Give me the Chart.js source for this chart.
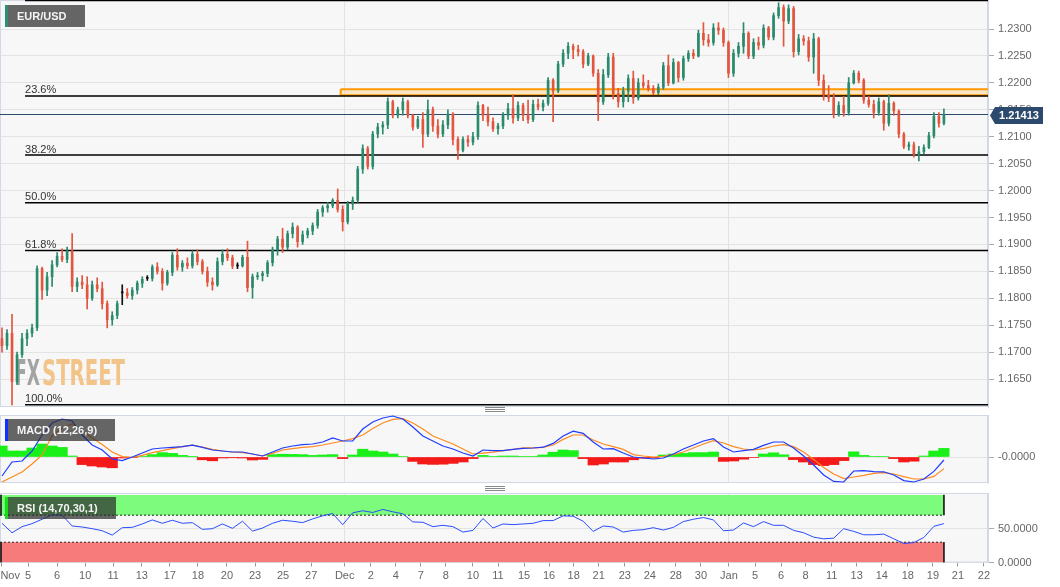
<!DOCTYPE html>
<html>
<head>
<meta charset="utf-8">
<script src="https://cdn.jsdelivr.net/npm/chart.js@4.4.0/dist/chart.umd.min.js"></script>
<style>
  body { margin: 0; background: #fff; }
  #wrap { position: relative; width: 1060px; height: 587px; overflow: hidden; }
  canvas { position: absolute; left: 0; }
  .grip { position: absolute; left: 485px; width: 20px; height: 5px;
          background: repeating-linear-gradient(#8a8a8a 0 1px, transparent 1px 2px); }
</style>
</head>
<body>
<div id="wrap">
  <canvas id="price" width="1060" height="410" style="top:0"></canvas>
  <canvas id="macd" width="1060" height="72" style="top:413px"></canvas>
  <canvas id="rsi" width="1060" height="99" style="top:488px"></canvas>
  <div class="grip" style="top:407px"></div>
  <div class="grip" style="top:486px"></div>
</div>
<script>
// EUR/USD 4h-ish bars
const opens = [
  1.1725,1.1712,1.1735,1.1645,1.1695,1.1725,1.1735,1.1745,1.1855,1.1815,
  1.1840,1.1862,1.1878,1.1872,1.1888,1.1822,1.1830,1.1825,1.1800,1.1825,
  1.1818,1.1790,1.1760,1.1768,1.1810,1.1810,1.1805,1.1815,1.1828,1.1837,
  1.1837,1.1858,1.1850,1.1828,1.1848,1.1880,1.1858,1.1865,1.1860,1.1882,
  1.1868,1.1850,1.1830,1.1825,1.1868,1.1882,1.1875,1.1860,1.1860,1.1876,
  1.1820,1.1840,1.1842,1.1846,1.1866,1.1890,1.1910,1.1895,1.1920,1.1932,
  1.1905,1.1918,1.1925,1.1935,1.1960,1.1968,1.1972,1.1982,1.1965,1.1942,
  1.1975,1.1982,1.2040,1.2078,1.2045,1.2105,1.2118,1.2122,1.2165,1.2140,
  1.2150,1.2165,1.2140,1.2118,1.2132,1.2105,1.2150,1.2120,1.2105,1.2122,
  1.2142,1.2095,1.2075,1.2095,1.2090,1.2100,1.2158,1.2140,1.2128,1.2115,
  1.2120,1.2140,1.2152,1.2135,1.2158,1.2140,1.2132,1.2160,1.2155,1.2162,
  1.2205,1.2185,1.2235,1.2255,1.2268,1.2262,1.2258,1.2235,1.2250,1.2218,
  1.2165,1.2215,1.2248,1.2180,1.2165,1.2185,1.2208,1.2172,1.2200,1.2195,
  1.2190,1.2182,1.2192,1.2232,1.2200,1.2238,1.2210,1.2245,1.2255,1.2250,
  1.2292,1.2280,1.2275,1.2302,1.2298,1.2275,1.2218,1.2255,1.2268,1.2292,
  1.2250,1.2275,1.2270,1.2302,1.2285,1.2325,1.2340,1.2315,1.2338,1.2258,
  1.2282,1.2278,1.2248,1.2282,1.2205,1.2178,1.2172,1.2142,1.2158,1.2145,
  1.2200,1.2218,1.2205,1.2168,1.2160,1.2145,1.2165,1.2125,1.2162,1.2148,
  1.2105,1.2082,1.2085,1.2068,1.2072,1.2080,1.2102,1.2138,1.2125
]
const highs = [
  1.1745,1.1742,1.1770,1.1700,1.1735,1.1742,1.1752,1.1860,1.1858,1.1848,
  1.1870,1.1885,1.1892,1.1895,1.1920,1.1838,1.1842,1.1840,1.1832,1.1838,
  1.1830,1.1795,1.1775,1.1795,1.1825,1.1818,1.1820,1.1832,1.1840,1.1842,
  1.1862,1.1866,1.1855,1.1852,1.1885,1.1892,1.1870,1.1875,1.1888,1.1890,
  1.1872,1.1858,1.1838,1.1875,1.1890,1.1892,1.1880,1.1866,1.1880,1.1906,
  1.1845,1.1848,1.1850,1.1870,1.1895,1.1915,1.1930,1.1925,1.1940,1.1935,
  1.1925,1.1930,1.1940,1.1965,1.1972,1.1978,1.1985,1.2003,1.1972,1.1980,
  1.1988,1.2045,1.2085,1.2082,1.2110,1.2125,1.2128,1.2172,1.2168,1.2155,
  1.2172,1.2168,1.2142,1.2138,1.2145,1.2168,1.2155,1.2132,1.2130,1.2150,
  1.2145,1.2100,1.2100,1.2102,1.2108,1.2165,1.2160,1.2155,1.2135,1.2125,
  1.2145,1.2162,1.2178,1.2165,1.2162,1.2168,1.2168,1.2170,1.2168,1.2210,
  1.2208,1.2240,1.2262,1.2275,1.2272,1.2270,1.2262,1.2255,1.2252,1.2225,
  1.2225,1.2255,1.2255,1.2190,1.2192,1.2215,1.2222,1.2208,1.2215,1.2205,
  1.2195,1.2198,1.2238,1.2252,1.2245,1.2240,1.2250,1.2260,1.2262,1.2298,
  1.2312,1.2290,1.2310,1.2312,1.2302,1.2278,1.2262,1.2275,1.2312,1.2295,
  1.2282,1.2285,1.2308,1.2305,1.2330,1.2349,1.2345,1.2345,1.2342,1.2290,
  1.2288,1.2285,1.2292,1.2285,1.2215,1.2195,1.2180,1.2165,1.2175,1.2210,
  1.2223,1.2222,1.2208,1.2175,1.2168,1.2172,1.2168,1.2178,1.2165,1.2150,
  1.2108,1.2090,1.2090,1.2082,1.2085,1.2108,1.2145,1.2145,1.2152
]
const lows = [
  1.1700,1.1705,1.1602,1.1640,1.1690,1.1712,1.1728,1.1740,1.1798,1.1805,
  1.1822,1.1858,1.1868,1.1866,1.1812,1.1812,1.1818,1.1780,1.1796,1.1812,
  1.1780,1.1745,1.1750,1.1762,1.1788,1.1800,1.1798,1.1808,1.1820,1.1833,
  1.1832,1.1845,1.1815,1.1824,1.1842,1.1852,1.1850,1.1855,1.1856,1.1862,
  1.1845,1.1822,1.1815,1.1822,1.1862,1.1870,1.1855,1.1855,1.1858,1.1812,
  1.1800,1.1835,1.1832,1.1840,1.1860,1.1880,1.1885,1.1890,1.1912,1.1895,
  1.1900,1.1912,1.1918,1.1930,1.1952,1.1960,1.1968,1.1960,1.1925,1.1938,
  1.1965,1.1978,1.2032,1.2040,1.2040,1.2098,1.2105,1.2115,1.2135,1.2135,
  1.2140,1.2135,1.2112,1.2115,1.2080,1.2100,1.2110,1.2098,1.2100,1.2115,
  1.2085,1.2058,1.2072,1.2082,1.2085,1.2095,1.2130,1.2120,1.2110,1.2105,
  1.2115,1.2132,1.2125,1.2130,1.2130,1.2125,1.2128,1.2150,1.2148,1.2158,
  1.2128,1.2182,1.2230,1.2245,1.2245,1.2250,1.2228,1.2232,1.2212,1.2130,
  1.2160,1.2210,1.2170,1.2155,1.2155,1.2165,1.2162,1.2168,1.2190,1.2185,
  1.2178,1.2178,1.2188,1.2195,1.2198,1.2202,1.2205,1.2240,1.2245,1.2248,
  1.2270,1.2268,1.2270,1.2290,1.2268,1.2210,1.2212,1.2248,1.2255,1.2245,
  1.2245,1.2262,1.2265,1.2280,1.2280,1.2320,1.2268,1.2310,1.2248,1.2252,
  1.2270,1.2240,1.2218,1.2195,1.2168,1.2165,1.2135,1.2138,1.2138,1.2140,
  1.2198,1.2200,1.2162,1.2155,1.2135,1.2140,1.2112,1.2120,1.2140,1.2098,
  1.2078,1.2075,1.2062,1.2055,1.2068,1.2078,1.2098,1.2118,1.2122
]
const closes = [
  1.1712,1.1735,1.1645,1.1695,1.1725,1.1735,1.1745,1.1855,1.1815,1.1840,
  1.1862,1.1878,1.1872,1.1888,1.1822,1.1830,1.1825,1.1800,1.1825,1.1818,
  1.1790,1.1760,1.1768,1.1790,1.1810,1.1805,1.1815,1.1828,1.1835,1.1837,
  1.1858,1.1850,1.1828,1.1848,1.1880,1.1858,1.1865,1.1860,1.1882,1.1868,
  1.1850,1.1830,1.1825,1.1868,1.1882,1.1875,1.1860,1.1860,1.1876,1.1820,
  1.1840,1.1842,1.1846,1.1866,1.1890,1.1910,1.1895,1.1920,1.1932,1.1905,
  1.1918,1.1925,1.1935,1.1960,1.1968,1.1972,1.1982,1.1965,1.1942,1.1975,
  1.1982,1.2040,1.2078,1.2045,1.2105,1.2118,1.2122,1.2165,1.2140,1.2150,
  1.2165,1.2140,1.2118,1.2132,1.2105,1.2150,1.2120,1.2105,1.2122,1.2142,
  1.2095,1.2075,1.2095,1.2090,1.2100,1.2158,1.2140,1.2128,1.2115,1.2120,
  1.2140,1.2152,1.2135,1.2158,1.2140,1.2132,1.2160,1.2155,1.2162,1.2205,
  1.2185,1.2235,1.2255,1.2268,1.2262,1.2258,1.2235,1.2250,1.2218,1.2165,
  1.2215,1.2248,1.2180,1.2165,1.2185,1.2208,1.2172,1.2200,1.2195,1.2190,
  1.2182,1.2192,1.2232,1.2200,1.2238,1.2210,1.2245,1.2255,1.2250,1.2292,
  1.2280,1.2275,1.2302,1.2298,1.2275,1.2218,1.2255,1.2268,1.2292,1.2250,
  1.2275,1.2270,1.2302,1.2285,1.2325,1.2340,1.2315,1.2338,1.2258,1.2282,
  1.2278,1.2248,1.2282,1.2205,1.2178,1.2172,1.2142,1.2158,1.2145,1.2200,
  1.2218,1.2205,1.2168,1.2160,1.2145,1.2165,1.2125,1.2162,1.2148,1.2105,
  1.2082,1.2085,1.2068,1.2072,1.2080,1.2102,1.2138,1.2125,1.21413
]

// indicators, one reading every second bar
const macdLine = [
  -0.00095,-0.00025,-0.0002,0.0003,0.0011,0.0017,0.0019,0.0018,0.0011,0.0006,
  0.00035,-0.0001,-0.00018,0,0.0002,0.0004,0.00045,0.00048,0.00052,0.00059,
  0.00048,0.00035,0.0003,0.00025,0.00025,0.00015,0.00005,0.00025,0.00045,0.00055,
  0.00062,0.00065,0.00075,0.00095,0.0008,0.0008,0.0014,0.00175,0.00195,0.00205,
  0.0019,0.0015,0.00105,0.0008,0.00055,0.0004,0.0002,0.00005,0.00035,0.00032,
  0.00032,0.00038,0.00043,0.00045,0.00049,0.00068,0.00105,0.00129,0.00118,0.00075,
  0.0004,0.00042,0.0002,0,-0.00005,-0.0001,-0.00005,0.00015,0.0004,0.0006,
  0.0008,0.00092,0.0005,0.00025,0.00032,0.00038,0.00058,0.00075,0.00075,0.00045,
  0.00005,-0.0004,-0.0009,-0.00122,-0.00125,-0.0007,-0.00068,-0.00073,-0.00074,-0.0009,
  -0.00118,-0.00125,-0.0011,-0.00072,-0.00015
]
const signalLine = [
  -0.00125,-0.001,-0.00075,-0.00035,0.0001,0.00105,0.00145,0.00165,0.0013,0.00095,
  0.00062,0.00025,0.00002,-0.00002,0.00008,0.00022,0.00032,0.00042,0.00052,0.00059,
  0.0005,0.00038,0.0003,0.00025,0.00022,0.00015,0.00005,0.00018,0.00035,0.00042,
  0.00048,0.00052,0.0006,0.0007,0.0008,0.00092,0.0011,0.00142,0.0017,0.00188,
  0.00192,0.0017,0.0014,0.00105,0.00085,0.00065,0.0004,0.00015,0.00019,0.00024,
  0.00032,0.00038,0.00046,0.00046,0.00048,0.0006,0.00088,0.0011,0.0011,0.00085,
  0.00065,0.00052,0.00038,0.00012,0.00005,0,0.00003,0.00012,0.00025,0.00045,
  0.00065,0.00082,0.0007,0.00052,0.0004,0.00035,0.00042,0.00055,0.00062,0.00052,
  0.00025,-0.00012,-0.00052,-0.00085,-0.00108,-0.001,-0.00092,-0.00082,-0.00078,-0.00085,
  -0.00098,-0.0011,-0.0011,-0.00097,-0.00058
]
const macdHist = [
  0.00055,0.0003,0.0003,0.00045,0.00065,0.00055,0.00048,0.00005,-0.00038,-0.00045,
  -0.0005,-0.00054,-0.00005,-0.00002,0.00002,0.00012,0.00022,0.00018,0.00008,0.00001,
  -0.00014,-0.00019,-0.00005,-0.00004,-0.00005,-0.00015,-0.00012,0.00012,0.00014,0.00013,
  0.00012,0.00008,0.0001,0.00012,-0.00008,0.0001,0.00039,0.0003,0.00025,0.00015,
  0.00002,-0.00022,-0.00035,-0.00037,-0.00036,-0.00032,-0.00025,-0.00008,0.00008,0.00002,
  0.00005,0.00005,0.00002,0.00002,0.0001,0.00024,0.00035,0.00032,-0.00008,-0.0004,
  -0.00035,-0.00025,-0.00025,-0.00014,-0.00006,-0.00005,0.0001,0.00015,0.00018,0.00022,
  0.00022,0.00025,-0.00022,-0.0002,-0.00011,-0.00002,0.00015,0.00021,0.00011,-0.00013,
  -0.00025,-0.00038,-0.00043,-0.00038,-0.00018,0.00026,0.00008,0.00002,0.00002,-0.00008,
  -0.00025,-0.00021,0.00005,0.0003,0.00043
]
const rsiLine = [
  58,44,53,57.5,64,70.5,70,54,52.5,50,
  47,40.5,51.5,52,57,63,58,62.5,58,59,
  49,50,57,50.5,61,46.5,51,58,62.5,61,
  59,64.5,69,72.5,56,73.5,76.5,74,78.5,75,
  72,60,59.5,53,55,53,45,47.5,65,51,
  57,56,57,58,62,62,69,68.5,61,46,
  54,52.5,45,47.5,48.5,51.5,48,52,60.5,64,
  66.5,63,47,48,58.5,53,60.5,55,55,47.5,
  44,37.5,35,36,50,46,41,41,42,35,
  28,29.5,37,53.5,57.5
]

const fibPcts = [0, 23.6, 38.2, 50, 61.8, 100]
const fibHigh = 1.2353
const fibLow = 1.1602
const resistBand = [1.2177, 1.2188]
const lastPrice = 1.21413
const priceTicks = [1.165, 1.17, 1.175, 1.18, 1.185, 1.19, 1.195, 1.2, 1.205, 1.21, 1.215, 1.22, 1.225, 1.23]
const xTickLabels = ['Nov','5','6','10','11','13','17','18','20','23','25','27',
  'Dec','2','4','7','8','10','11','15','16','18','21','23','24','28','30',
  'Jan','5','6','8','11','13','14','18','19','21','22']
// tick positions in bar units
const xTickPos = [-0.2,5.2,11.0,16.6,22.2,27.9,33.5,39.1,44.9,50.5,56.1,61.7,
  68.4,73.6,78.6,83.6,88.6,94.0,99.0,104.2,109.2,114.1,119.1,124.3,129.3,134.5,139.5,
  145.1,150.3,155.5,160.4,165.6,170.6,175.6,180.8,185.8,190.8,196.0]

const X_MIN = -0.4, X_MAX = 196.8
const FIB_START = 4.6, BAND_START = 67.6
const LAST = closes.length - 1
const DEC = xTickPos[xTickLabels.indexOf('Dec')]
const JAN = xTickPos[xTickLabels.indexOf('Jan')]

const UP = '#2a8a6c', DOWN = '#e2553e', DOJI = '#111'
const FONT = '"Liberation Sans", Arial, sans-serif'
const GRID = '#e3e3e3'

Chart.defaults.font.family = FONT
Chart.defaults.font.size = 11
Chart.defaults.color = '#666'
Chart.defaults.animation = false
Chart.defaults.events = []
Chart.defaults.plugins.legend.display = false
Chart.defaults.plugins.tooltip.enabled = false

const rightAxis = s => { s.width = 72; s.paddingTop = 0; s.paddingBottom = 0 }
const flatAxis = h => s => { s.height = h; s.paddingLeft = 0; s.paddingRight = 0 }

const panelFrame = {
  id: 'panelFrame',
  beforeDraw(chart) {
    const { ctx, chartArea: a } = chart
    ctx.save()
    ctx.fillStyle = '#f7f7f7'
    ctx.fillRect(a.left, a.top, a.width, a.height)
    ctx.restore()
  },
  beforeDatasetsDraw(chart) {
    const { ctx, chartArea: a } = chart
    ctx.save()
    ctx.strokeStyle = '#d2d8e6'
    ctx.strokeRect(a.left + 0.5, a.top + 0.5, a.width - 1, a.height - 1)
    ctx.restore()
  }
}

function labelBox(ctx, x, y, w, h, stripe, text) {
  ctx.save()
  ctx.fillStyle = 'rgba(45,45,45,0.72)'
  ctx.fillRect(x, y, w, h)
  ctx.fillStyle = stripe
  ctx.fillRect(x, y, 3, h)
  ctx.fillStyle = '#f4f4f4'
  ctx.font = 'bold 11px ' + FONT
  ctx.textBaseline = 'middle'
  ctx.fillText(text, x + 12, y + h / 2 + 0.5)
  ctx.restore()
}

const priceOverlay = {
  id: 'priceOverlay',
  beforeDatasetsDraw(chart) {
    const { ctx, chartArea: a } = chart
    const xs = chart.scales.x, ys = chart.scales.y
    // watermark
    ctx.save()
    ctx.font = 'bold 36px "Liberation Sans Narrow", "DejaVu Sans Condensed", sans-serif'
    ctx.textBaseline = 'alphabetic'
    const parts = [['FX', '#a3a3a3', 15, 25], ['STREET', '#f2c48a', 42, 83]]
    parts.forEach(([t, c, x, w]) => {
      ctx.save()
      ctx.translate(a.left + x, a.bottom - 22)
      ctx.scale(w / ctx.measureText(t).width, 1)
      ctx.fillStyle = c
      ctx.fillText(t, 0, 0)
      ctx.restore()
    })
    // fib labels
    ctx.font = '11px ' + FONT
    ctx.fillStyle = '#333'
    ctx.textBaseline = 'bottom'
    fibPcts.forEach(p => {
      if (p === 0) return
      const v = fibHigh - p / 100 * (fibHigh - fibLow)
      ctx.fillText(p.toFixed(1) + '%', xs.getPixelForValue(FIB_START), ys.getPixelForValue(v))
    })
    ctx.restore()
  },
  afterDraw(chart) {
    const { ctx, chartArea: a } = chart
    const ys = chart.scales.y
    labelBox(ctx, 5, 5, 80, 22, '#2f8f70', 'EUR/USD')
    const y = Math.round(ys.getPixelForValue(lastPrice)) + 0.5
    const x0 = a.right + 2
    ctx.save()
    ctx.fillStyle = '#2c4a6d'
    ctx.beginPath()
    ctx.moveTo(x0, y)
    ctx.lineTo(x0 + 5, y - 8.5)
    ctx.lineTo(x0 + 53, y - 8.5)
    ctx.lineTo(x0 + 53, y + 8.5)
    ctx.lineTo(x0 + 5, y + 8.5)
    ctx.closePath()
    ctx.fill()
    ctx.fillStyle = '#fff'
    ctx.font = 'bold 11px ' + FONT
    ctx.textAlign = 'center'
    ctx.textBaseline = 'middle'
    ctx.fillText(lastPrice.toFixed(5), x0 + 29, y + 0.5)
    ctx.restore()
  }
}

const candleColors = closes.map((c, i) => c > opens[i] ? UP : c < opens[i] ? DOWN : DOJI)
const hLine = (y, from, color, width) => ({
  type: 'line', data: [{ x: from, y }, { x: X_MAX, y }],
  borderColor: color, borderWidth: width, pointRadius: 0, order: 4
})

const decJanGrid = s => { s.ticks = [{ value: DEC }, { value: JAN }] }

new Chart(document.getElementById('price'), {
  type: 'bar',
  data: {
    datasets: [
      { data: closes.map((c, i) => ({ x: i, y: [opens[i], c] })), backgroundColor: candleColors,
        barThickness: 2, minBarLength: 1, grouped: false, order: 1 },
      { data: closes.map((c, i) => ({ x: i, y: [lows[i], highs[i]] })), backgroundColor: candleColors,
        barThickness: 1, grouped: false, order: 2 },
      { type: 'line', order: 6, pointRadius: 0, borderColor: '#ff9900', borderWidth: 2,
        backgroundColor: 'rgba(255,196,110,0.35)', fill: 'shape',
        data: [{ x: BAND_START, y: resistBand[1] }, { x: X_MAX + 1, y: resistBand[1] },
               { x: X_MAX + 1, y: resistBand[0] }, { x: BAND_START, y: resistBand[0] },
               { x: BAND_START, y: resistBand[1] }] },
      ...fibPcts.map(p => hLine(fibHigh - p / 100 * (fibHigh - fibLow), FIB_START, '#000', 1.5)),
      { ...hLine(lastPrice, X_MIN, '#2c4a6d', 1), order: 3 }
    ]
  },
  options: {
    responsive: false,
    scales: {
      x: { type: 'linear', min: X_MIN, max: X_MAX, offset: false,
           afterBuildTicks: decJanGrid, afterFit: flatAxis(3),
           ticks: { display: false }, border: { display: false },
           grid: { color: GRID, drawTicks: false, offset: false } },
      y: { position: 'right', min: 1.1598, max: 1.2354,
           afterBuildTicks: s => { s.ticks = priceTicks.map(value => ({ value })) },
           afterFit: rightAxis,
           ticks: { callback: v => v.toFixed(4), padding: 4 },
           grid: { color: GRID, tickLength: 6, tickColor: '#aaa' },
           border: { color: '#d2d8e6' } }
    }
  },
  plugins: [panelFrame, priceOverlay]
})

new Chart(document.getElementById('macd'), {
  type: 'bar',
  data: {
    datasets: [
      { type: 'line', data: macdLine.map((v, k) => ({ x: 2 * k, y: v })),
        borderColor: '#1e3cff', borderWidth: 1.2, pointRadius: 0, order: 0 },
      { type: 'line', data: signalLine.map((v, k) => ({ x: 2 * k, y: v })),
        borderColor: '#ff8a1e', borderWidth: 1.2, pointRadius: 0, order: 1 },
      { data: macdHist.map((v, k) => ({ x: 2 * k, y: v })),
        backgroundColor: macdHist.map(v => v >= 0 ? '#19f019' : '#f51a1a'),
        barThickness: 10.5, grouped: false, order: 2 }
    ]
  },
  options: {
    responsive: false,
    layout: { padding: { top: 2 } },
    scales: {
      x: { type: 'linear', min: X_MIN, max: X_MAX, offset: false,
           afterBuildTicks: decJanGrid, afterFit: flatAxis(2),
           ticks: { display: false }, border: { display: false },
           grid: { color: GRID, drawTicks: false, offset: false } },
      y: { position: 'right', min: -0.0013, max: 0.0021,
           afterBuildTicks: s => { s.ticks = [{ value: 0 }] },
           afterFit: rightAxis,
           ticks: { callback: () => '-0.0000', padding: 4 },
           grid: { color: GRID, tickLength: 6, tickColor: '#aaa' },
           border: { color: '#d2d8e6' } }
    }
  },
  plugins: [panelFrame, {
    id: 'macdLabel',
    afterDraw(chart) { labelBox(chart.ctx, 5, 6, 110, 22, '#1030ff', 'MACD (12,26,9)') }
  }]
})

const seg = (pts) => pts.map(([x, y]) => ({ x, y }))
new Chart(document.getElementById('rsi'), {
  type: 'line',
  data: {
    datasets: [
      { data: seg([[X_MIN, 100], [LAST, 100]]), fill: { value: 70 }, backgroundColor: '#7dfb7d',
        borderWidth: 0, pointRadius: 0, order: 6 },
      { data: seg([[X_MIN, 30], [LAST, 30]]), fill: { value: 0 }, backgroundColor: '#f87b7b',
        borderWidth: 0, pointRadius: 0, order: 6 },
      { data: seg([[X_MIN, 70], [LAST, 70], [LAST, null], [X_MIN, 30], [LAST, 30]]),
        borderColor: '#222', borderWidth: 1, borderDash: [2, 2], pointRadius: 0, order: 5 },
      { data: seg([[LAST, 100], [LAST, 70], [LAST, null], [LAST, 30], [LAST, 0], [LAST, null],
                   [X_MIN + 0.2, 100], [X_MIN + 0.2, 70], [X_MIN + 0.2, null], [X_MIN + 0.2, 30], [X_MIN + 0.2, 0]]),
        borderColor: '#222', borderWidth: 1, pointRadius: 0, order: 5 },
      { data: rsiLine.map((v, k) => ({ x: 2 * k, y: v })),
        borderColor: '#2a4dff', borderWidth: 1, pointRadius: 0, order: 0 }
    ]
  },
  options: {
    responsive: false,
    layout: { padding: { top: 5 } },
    scales: {
      x: { type: 'linear', min: X_MIN, max: X_MAX, offset: false,
           afterBuildTicks: s => { s.ticks = xTickPos.map(value => ({ value })) },
           afterFit: flatAxis(24.5),
           // first label sits flush left of its tick, the way the source draws it
           ticks: { autoSkip: false, maxRotation: 0, padding: 3,
                    callback: (v, i) => i === 0 ? '      ' + xTickLabels[i] : xTickLabels[i] },
           border: { display: false },
           grid: { offset: false, tickLength: 4, tickColor: '#999',
                   color: c => (c.tick && (c.tick.value === DEC || c.tick.value === JAN)) ? GRID : 'rgba(0,0,0,0)' } },
      y: { position: 'right', min: 0, max: 102.8,
           afterBuildTicks: s => { s.ticks = [{ value: 0 }, { value: 50 }] },
           afterFit: rightAxis,
           ticks: { callback: v => v.toFixed(4), padding: 4 },
           grid: { color: GRID, tickLength: 6, tickColor: '#aaa' },
           border: { color: '#d2d8e6' } }
    }
  },
  plugins: [panelFrame, {
    id: 'rsiLabel',
    afterDatasetsDraw(chart) { labelBox(chart.ctx, 5, 9, 111, 22, '#13e013', 'RSI (14,70,30,1)') }
  }]
})
</script>
</body>
</html>
